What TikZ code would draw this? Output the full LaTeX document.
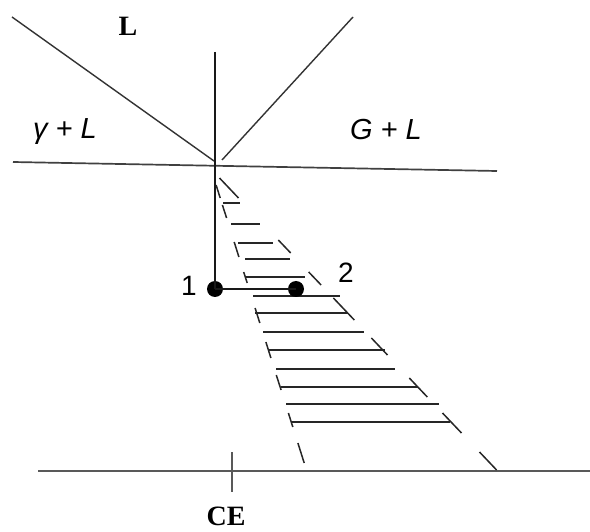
\documentclass[tikz,border=0pt]{standalone}
\usepackage{fontspec}
\newfontfamily\tms{Liberation Serif}
\newfontfamily\hel{Liberation Sans}
\begin{document}
\begin{tikzpicture}[x=1pt,y=-1pt,
  thinline/.style={draw=black!80,line width=1.4pt},
  mainline/.style={draw=black!90,line width=2.4pt},
  baseline/.style={draw=black!65,line width=2.6pt},
  hatchline/.style={draw=black!85,line width=1.5pt},
  dotnode/.style={circle,fill=black,inner sep=0pt,minimum size=16pt},
  serlabel/.style={font=\tms\fontsize{28}{30}\selectfont\bfseries,anchor=base,inner sep=0pt},
  sanslabel/.style={font=\hel\fontsize{29}{31}\selectfont\itshape,anchor=base,inner sep=0pt},
  numlabel/.style={font=\hel\fontsize{28}{30}\selectfont,anchor=base,inner sep=0pt}]
\useasboundingbox[fill=white] (0,0) rectangle (590,532);

% key points
\coordinate (ldtop) at (12,17);
\coordinate (ldend) at (214,161);
\coordinate (rdtop) at (353,17);
\coordinate (rdend) at (222,160);
\coordinate (vtop) at (215,52);
\coordinate (hleft) at (13,162);
\coordinate (hright) at (497,171);
\coordinate (bleft) at (38,471);
\coordinate (bright) at (590,471);
\coordinate (ticktop) at (232,452);
\coordinate (tickbot) at (232,492);

% phase boundaries
\draw[thinline] (ldtop) -- (ldend);
\draw[thinline] (rdtop) -- (rdend);
\draw[draw=black!75,line width=1.7pt] (hleft) -- (hright);

% bottom axis
\draw[baseline] (bleft) -- (bright);
\draw[baseline] (ticktop) -- (tickbot);

% hatched band: horizontal hatch lines
\foreach \y/\xa/\xb in {203/223/240, 224/231/260, 243/238/273, 259/245/290,
  277/245/305, 296/253/340, 313/255/348, 332/263/364, 350/268/385,
  369/276/395, 387/281/418, 404/286/439, 422/291/450}
  \draw[hatchline] (\xa,\y) -- (\xb,\y);

% dashed left boundary
\foreach \ya/\xa/\yb/\xb in {185/216.1/198/220.2, 205/222.4/218/226.6,
  242/234.2/257/238.9, 272/243.7/283/247.2, 308/255.1/323/259.8,
  342/265.9/358/270.9, 375/276.3/390/281.1, 413/288.4/427/292.8,
  443/297.9/463/304.2}
  \draw[hatchline] (\xa,\ya) -- (\xb,\yb);

% dashed right boundary
\foreach \ya/\xa/\yb/\xb in {178/219.5/198/238.5, 240/278.3/253/290.7,
  272/308.7/285/321.1, 298/333.4/320/354.3, 338/371.4/355/387.5,
  378/409.3/397/427.3, 413/442.5/433/461.5, 452/479.5/470/496.6}
  \draw[hatchline] (\xa,\ya) -- (\xb,\yb);

% path 1 -> 2
\node[dotnode] (p1) at (215,289) {};
\node[dotnode] (p2) at (296,289) {};
\draw[mainline] (vtop) -- (p1.center);
\draw[mainline] (p1.center) -- (p2.center);

% labels
\node[serlabel] (lbL) at (128,36) {L};
\node[serlabel] (lbCE) at (226,525) {CE};
\node[sanslabel] (lbgl) at (65,139) {γ + L};
\node[sanslabel] (lbGL) at (386,140) {G + L};
\node[numlabel] (lb1) at (189,295) {1};
\node[numlabel] (lb2) at (346,283) {2};
\end{tikzpicture}
\end{document}
